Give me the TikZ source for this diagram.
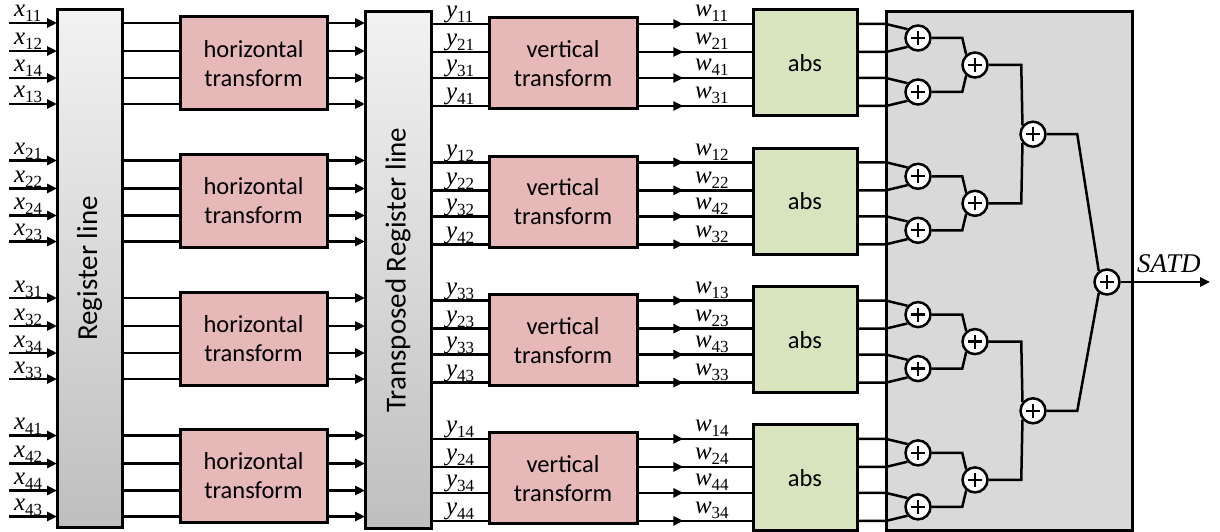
\documentclass[tikz,border=0pt]{standalone}
\usepackage{fontspec}
\setmainfont{Liberation Serif}
\newfontfamily\cfont{Carlito}
\usetikzlibrary{arrows.meta,decorations.markings}
\definecolor{pinkbox}{RGB}{230,184,183}
\definecolor{greenbox}{RGB}{215,228,189}
\definecolor{graybox}{RGB}{217,217,217}
\definecolor{regtop}{RGB}{242,242,242}
\definecolor{regbot}{RGB}{191,191,191}
\newcommand\sublab[2]{{\fontsize{25}{25}\selectfont\itshape #1}\raisebox{-5pt}{\fontsize{17}{17}\selectfont #2}}
\begin{document}
\begin{tikzpicture}[x=1pt,y=-1pt,
  box/.style={draw, line width=3pt, inner sep=0pt, outer sep=0pt, align=center, font=\cfont\fontsize{24.5}{29}\selectfont},
  boxtext/.style={font=\cfont\fontsize{29}{34}\selectfont},
  wire/.style={line width=2.5pt},
  arr/.style={wire, -{Triangle[length=10pt,width=9pt]}},
  midarr/.style={wire, postaction={decorate}, decoration={markings, mark=at position #1 with {\arrow{Triangle[length=10pt,width=9pt]}}}},
  sumnode/.style={circle, draw, line width=2.5pt, fill=white, minimum size=25pt, inner sep=0pt,
    path picture={\draw[line width=2.3pt] ([xshift=-7pt]path picture bounding box.center) -- ([xshift=7pt]path picture bounding box.center);
                  \draw[line width=2.3pt] ([yshift=-7pt]path picture bounding box.center) -- ([yshift=7pt]path picture bounding box.center);}},
  lab/.style={anchor=base west, inner sep=0pt, outer sep=0pt, text height=12pt, text depth=6pt},
]
\useasboundingbox (0,0) rectangle (1220,532);
% big blocks
\node[box, top color=regtop, bottom color=regbot, minimum width=65pt, minimum height=517pt] (reg) at (89.5,268.5) {};
\node[boxtext, rotate=90] (regl) at (reg.center) {Register line};
\node[box, top color=regtop, bottom color=regbot, minimum width=66pt, minimum height=516pt] (tr) at (398,270) {};
\node[boxtext, rotate=90] (trl) at (tr.center) {Transposed Register line};
\node[box, fill=graybox, minimum width=246pt, minimum height=518pt] (sum) at (1009,271) {};
% groups
\foreach \g/\xA/\xB/\xC/\xD/\yA/\yB/\yC/\yD/\wA/\wB/\wC/\wD in {
 0/11/12/14/13/11/21/31/41/11/21/41/31,
 1/21/22/24/23/12/22/32/42/12/22/42/32,
 2/31/32/34/33/33/23/33/43/13/23/43/33,
 3/41/42/44/43/14/24/34/44/14/24/44/34}{
  \pgfmathsetmacro\Lb{23+137.5*\g}
  \pgfmathsetmacro\Rb{24+138.3*\g}
  \node[box, fill=pinkbox, minimum width=147pt, minimum height=93pt] (h\g) at (253.5,\Lb+40.5) {horizontal\\transform};
  \node[box, fill=pinkbox, minimum width=148pt, minimum height=91pt] (v\g) at (563,\Rb+39.5) {vertical\\transform};
  \node[box, fill=greenbox, minimum width=104pt, minimum height=106pt] (a\g) at (805,\Rb+39) {abs};
  \node[sumnode] (p\g a) at (918,\Rb+14) {};
  \node[sumnode] (p\g b) at (918,\Rb+68) {};
  \node[sumnode] (q\g) at (975,\Rb+41) {};
  \draw[wire] (p\g a.east) -- ++(30.5,0) -- (q\g.130);
  \draw[wire] (p\g b.east) -- ++(30.5,0) -- (q\g.230);
  \foreach \i/\lo/\ro/\xl/\yl/\wl/\pn/\an in {0/0/0/\xA/\yA/\wA/a/140, 1/28/28/\xB/\yB/\wB/a/220, 2/55/54/\xC/\yC/\wC/b/140, 3/81/82/\xD/\yD/\wD/b/220}{
    \pgfmathsetmacro\Ly{\Lb+\lo}
    \pgfmathsetmacro\Ry{\Rb+\ro}
    \coordinate (in\g\i) at (9,\Ly);
    \draw[arr] (in\g\i) -- (reg.west |- 0,\Ly);
    \draw[wire] (reg.east |- 0,\Ly) -- (h\g.west |- 0,\Ly);
    \draw[arr] (h\g.east |- 0,\Ly) -- (tr.west |- 0,\Ly);
    \draw[wire] (tr.east |- 0,\Ry) -- (v\g.west |- 0,\Ry);
    \draw[midarr=0.40] (v\g.east |- 0,\Ry) -- (a\g.west |- 0,\Ry);
    \draw[wire] (a\g.east |- 0,\Ry) -- (sum.west |- 0,\Ry) -- (p\g\pn.\an);
    \node[lab] (lx\g\i) at (14,\Ly-6) {\sublab{x}{\xl}};
    \node[lab] (ly\g\i) at (446,\Ry-6) {\sublab{y}{\yl}};
    \node[lab] (lw\g\i) at (695,\Ry-7) {\sublab{w}{\wl}};
  }
}
% higher levels
\node[sumnode] (r1) at (1033,134.2) {};
\node[sumnode] (r2) at (1033,410.8) {};
\node[sumnode] (f) at (1107,282) {};
\draw[wire] (q0.east) -- ++(32.5,0) -- (r1.140);
\draw[wire] (q1.east) -- ++(32.5,0) -- (r1.220);
\draw[wire] (q2.east) -- ++(32.5,0) -- (r2.140);
\draw[wire] (q3.east) -- ++(32.5,0) -- (r2.220);
\draw[wire] (r1.east) -- ++(30.5,0) -- (f.127);
\draw[wire] (r2.east) -- ++(30.5,0) -- (f.233);
\coordinate (out) at (1210,282);
\draw[arr] (f.east) -- (out);
\node[lab] (satd) at (1137,272) {\fontsize{27}{27}\selectfont\itshape SATD};
\end{tikzpicture}
\end{document}
